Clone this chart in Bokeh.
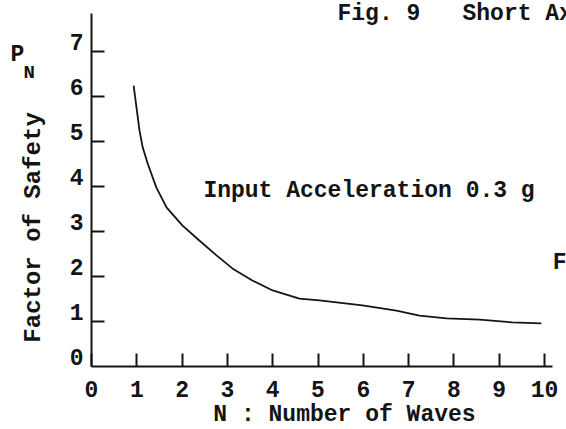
import math
from bokeh.plotting import figure
from bokeh.models import Range1d, LinearAxis, FixedTicker, Label
from bokeh.embed import file_html
from bokeh.resources import INLINE

# ---- data ----
n_waves = [0.93, 1.06, 1.13, 1.24, 1.43, 1.66, 2.01, 2.38, 2.76, 3.11, 3.55,
           4.00, 4.59, 5.03, 5.98, 6.73, 7.24, 7.84, 8.57, 9.29, 9.93]
factor_safety = [6.24, 5.24, 4.87, 4.51, 3.98, 3.53, 3.13, 2.80, 2.47, 2.18, 1.91,
                 1.69, 1.51, 1.47, 1.36, 1.24, 1.13, 1.07, 1.04, 0.98, 0.96]
x_ticks = [0, 1, 2, 3, 4, 5, 6, 7, 8, 9, 10]
y_ticks = [1, 2, 3, 4, 5, 6, 7]
y_tick_labels = [0, 1, 2, 3, 4, 5, 6, 7]

FONT = "Liberation Mono"
INK = "#141414"
FS = "23px"

W, H = 566, 429
X0, Y0 = 91, 366          # pixel position of the origin
KX, KY = 45.3, 45.0       # pixels per unit
X_END, Y_END = 10.18, 7.84  # extent of the drawn axis lines

p = figure(width=W, height=H, output_backend="svg", toolbar_location=None,
           x_range=Range1d(-X0 / KX, (W - X0) / KX),
           y_range=Range1d(-(H - Y0) / KY, Y0 / KY),
           x_axis_type=None, y_axis_type=None,
           min_border=0, min_border_left=0, min_border_right=0,
           min_border_top=0, min_border_bottom=0)
p.outline_line_color = None
p.background_fill_color = "white"
p.border_fill_color = "white"

# y axis: line + inward ticks (its numbers are drawn by the axis below)
yax = LinearAxis(ticker=FixedTicker(ticks=y_ticks), fixed_location=0,
                 bounds=(0, Y_END),
                 major_tick_in=13, major_tick_out=0,
                 minor_tick_in=0, minor_tick_out=0,
                 major_label_overrides={t: "" for t in y_ticks},
                 major_label_standoff=0,
                 axis_line_width=2, axis_line_color=INK,
                 major_tick_line_width=2, major_tick_line_color=INK)
p.add_layout(yax, "left")

# y tick labels (typed slightly above their ticks)
SHIFT = 0.22
p.extra_y_ranges = {"labels": Range1d(-(H - Y0) / KY - SHIFT, Y0 / KY - SHIFT)}
ylab = LinearAxis(y_range_name="labels", ticker=FixedTicker(ticks=y_tick_labels),
                  fixed_location=0,
                  axis_line_color=None, major_tick_line_color=None,
                  minor_tick_line_color=None,
                  major_tick_in=0, major_tick_out=0,
                  minor_tick_in=0, minor_tick_out=0,
                  major_label_standoff=8,
                  major_label_text_font=FONT, major_label_text_font_size=FS,
                  major_label_text_font_style="bold",
                  major_label_text_color=INK)
p.add_layout(ylab, "left")

# x axis
xax = LinearAxis(ticker=FixedTicker(ticks=x_ticks), fixed_location=0,
                 bounds=(0, X_END),
                 major_tick_in=13, major_tick_out=0,
                 minor_tick_in=0, minor_tick_out=0,
                 axis_line_width=2, axis_line_color=INK,
                 major_tick_line_width=2, major_tick_line_color=INK,
                 major_label_standoff=14,
                 major_label_text_font=FONT, major_label_text_font_size=FS,
                 major_label_text_font_style="bold",
                 major_label_text_color=INK)
p.add_layout(xax, "below")

# curve
p.line(n_waves, factor_safety, line_color=INK, line_width=1.8)

def lab(text, x, y, size=FS, baseline="alphabetic", **kw):
    p.add_layout(Label(x=x, y=y, text=text, text_font=FONT, text_font_size=size,
                       text_font_style="bold", text_color=INK,
                       text_baseline=baseline, **kw))

lab("Input Acceleration 0.3 g", 2.47, 3.90)
lab("N : Number of Waves", 2.69, -1.08)
lab("Factor of Safety", -1.28, 0.53, size="24px", baseline="middle", angle=math.pi / 2)
lab("P", -1.79, 6.93)
lab("N", -1.50, 6.53, size="19px")
lab("Fig. 9", 5.43, 7.83)
lab("Short Ax", 8.19, 7.83)
lab("F", 10.18, 2.31)

open("out.html", "w").write(file_html(p, INLINE))
